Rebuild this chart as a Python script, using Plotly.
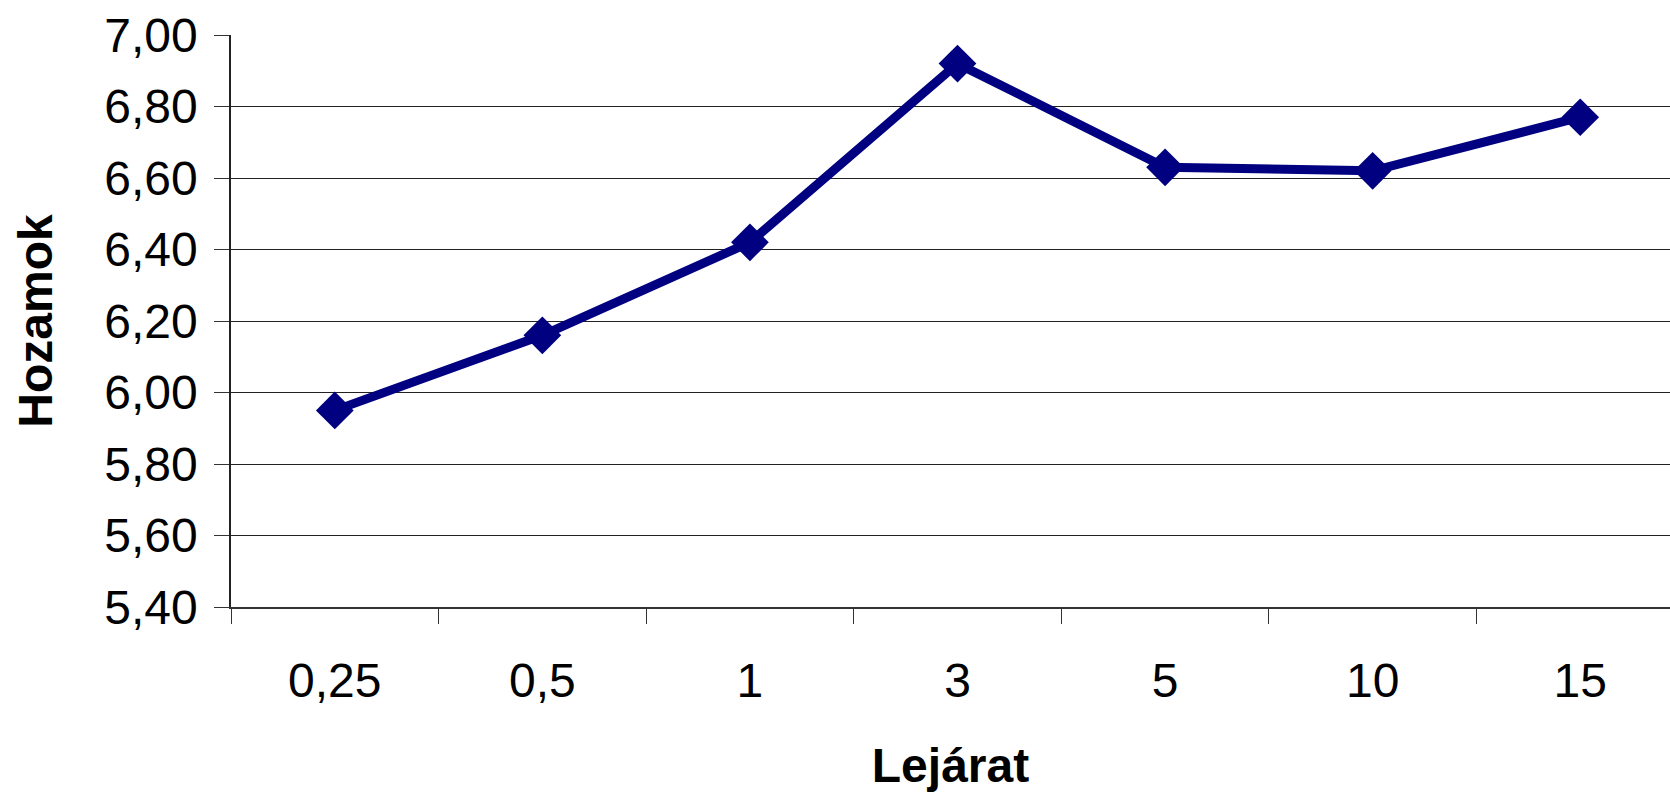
import plotly.graph_objects as go

# Maturities (years) and yields
lejarat = ["0,25", "0,5", "1", "3", "5", "10", "15"]
hozamok = [5.95, 6.16, 6.42, 6.92, 6.63, 6.62, 6.77]

y_ticks = [5.4, 5.6, 5.8, 6.0, 6.2, 6.4, 6.6, 6.8, 7.0]

FONT = "Liberation Sans, Arial, sans-serif"
NAVY = "#000080"

fig = go.Figure(
    go.Scatter(
        x=lejarat,
        y=hozamok,
        mode="lines+markers",
        line=dict(color=NAVY, width=9),
        marker=dict(symbol="diamond", size=29, color=NAVY),
        cliponaxis=False,
        showlegend=False,
    )
)

fig.update_layout(
    width=1670,
    height=792,
    margin=dict(l=231, r=0, t=35, b=185),
    paper_bgcolor="white",
    plot_bgcolor="white",
    separators=", ",
    font=dict(family=FONT, size=48, color="black"),
)

fig.update_xaxes(
    type="category",
    range=[-0.5, 6.4326],
    tickson="boundaries",
    ticks="outside",
    ticklen=15,
    tickwidth=1,
    tickcolor="#333333",
    showgrid=False,
    showline=True,
    linecolor="#333333",
    linewidth=2,
    tickfont=dict(size=48),
    ticklabelstandoff=30,
    title=dict(text="<b>Lejárat</b>", font=dict(size=48), standoff=43),
    automargin=False,
)

fig.update_yaxes(
    range=[5.4, 7.0],
    tickvals=y_ticks,
    tickformat=".2f",
    ticks="outside",
    ticklen=15,
    tickwidth=1,
    tickcolor="#333333",
    showgrid=True,
    gridcolor="#222222",
    gridwidth=1,
    showline=True,
    linecolor="#222222",
    linewidth=1.5,
    zeroline=False,
    tickfont=dict(size=48),
    ticklabelstandoff=7,
    title=dict(text="<b>Hozamok</b>", font=dict(size=48), standoff=36),
    automargin=False,
)

fig.write_html("out.html")
